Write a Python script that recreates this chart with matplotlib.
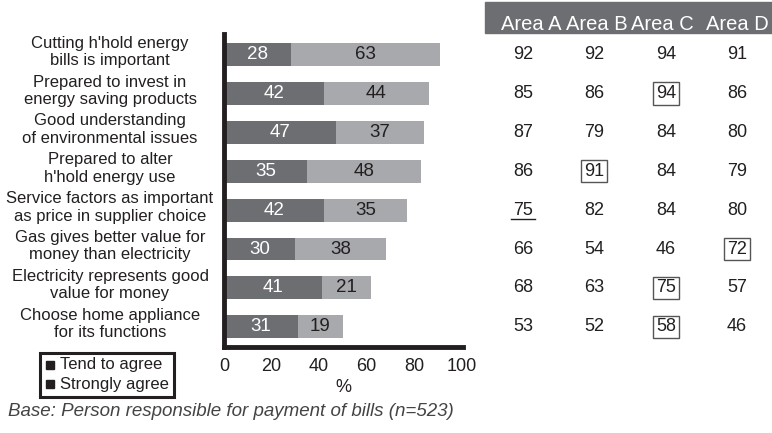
import matplotlib
matplotlib.use("Agg")
import matplotlib.pyplot as plt
import matplotlib.transforms as mtransforms
from matplotlib.lines import Line2D
from matplotlib.patches import Rectangle

plt.rcParams['font.family'] = ['Liberation Sans', 'DejaVu Sans']

categories = [
    "Cutting h'hold energy\nbills is important",
    "Prepared to invest in\nenergy saving products",
    "Good understanding\nof environmental issues",
    "Prepared to alter\nh'hold energy use",
    "Service factors as important\nas price in supplier choice",
    "Gas gives better value for\nmoney than electricity",
    "Electricity represents good\nvalue for money",
    "Choose home appliance\nfor its functions",
]
strongly_agree = [28, 42, 47, 35, 42, 30, 41, 31]
tend_to_agree = [63, 44, 37, 48, 35, 38, 21, 19]

areas = ["Area A", "Area B", "Area C", "Area D"]
area_a = [92, 85, 87, 86, 75, 66, 68, 53]
area_b = [92, 86, 79, 91, 82, 54, 63, 52]
area_c = [94, 94, 84, 84, 84, 46, 75, 58]
area_d = [91, 86, 80, 79, 80, 72, 57, 46]
# (row, column) of boxed and underlined cells
boxed = [(1, 2), (3, 1), (5, 3), (6, 2), (7, 2)]
underlined = [(4, 0)]

dark = "#6d6e71"
light = "#a7a9ac"
ink = "#231f20"

fig = plt.figure(figsize=(7.72, 4.33), dpi=100)
ax = fig.add_axes([224 / 772, 1 - 347 / 433, 239 / 772, 313 / 433])

y = list(range(len(categories)))
ax.barh(y, strongly_agree, height=0.59, color=dark)
ax.barh(y, tend_to_agree, left=strongly_agree, height=0.59, color=light)

for i in y:
    s, t = strongly_agree[i], tend_to_agree[i]
    ax.text(s / 2, i, str(s), ha='center', va='center', color='white', fontsize=13.5)
    ax.text(s + t / 2, i, str(t), ha='center', va='center', color=ink, fontsize=13.5)

ax.set_xlim(0, 100.5)
ax.set_ylim(7.52, -0.53)
ax.set_xticks([0, 20, 40, 60, 80, 100])
ax.tick_params(axis='x', length=0, labelsize=13, pad=8, colors=ink)
ax.set_yticks([])
for side in ['top', 'right']:
    ax.spines[side].set_visible(False)
for side in ['left', 'bottom']:
    ax.spines[side].set_linewidth(3.5)
    ax.spines[side].set_color(ink)
ax.set_xlabel('%', fontsize=13, color=ink, labelpad=3)

# category labels, centred to the left of the axis
trans = mtransforms.blended_transform_factory(fig.transFigure, ax.transData)
for i, lab in enumerate(categories):
    fig.text(110 / 772, i - 0.07, lab, transform=trans, ha='center', va='center',
             fontsize=12, color=ink, linespacing=1.2)

# table on the right
col_x = [523 / 772, 594 / 772, 666 / 772, 737 / 772]
head_x = [531 / 772, 597 / 772, 662 / 772, 737 / 772]
fig.patches.append(Rectangle((485 / 772, 1 - 33 / 433), 1 - 485 / 772, 31 / 433,
                             transform=fig.transFigure, color=dark, zorder=0))
for hx, name in zip(head_x, areas):
    fig.text(hx, 1 - 24 / 433, name, ha='center', va='center', color='white', fontsize=14.5)

table = [area_a, area_b, area_c, area_d]
for c, col in enumerate(table):
    for r, v in enumerate(col):
        kw = {}
        if (r, c) in boxed:
            kw['bbox'] = dict(boxstyle='square,pad=0.15', fc='none', ec='#555555', lw=1)
        fig.text(col_x[c], r, str(v), transform=trans, ha='center', va='center',
                 fontsize=13, color=ink, **kw)
        if (r, c) in underlined:
            fig.lines.append(Line2D([col_x[c] - 12 / 772, col_x[c] + 12 / 772], [r + 0.23, r + 0.23],
                                    transform=trans, color=ink, lw=1))

# legend box
fig.patches.append(Rectangle((40 / 772, 1 - 397 / 433), 134 / 772, 44 / 433,
                             transform=fig.transFigure, fill=False, ec=ink, lw=2.2))
for k, lab in enumerate(["Tend to agree", "Strongly agree"]):
    yy = 1 - (365 + k * 19) / 433
    fig.lines.append(Line2D([50 / 772], [yy], marker='s', markersize=5.5, color=ink,
                            transform=fig.transFigure))
    fig.text(60 / 772, yy, lab, ha='left', va='center', fontsize=12, color=ink)

fig.text(8 / 772, 1 - 411 / 433, "Base: Person responsible for payment of bills (n=523)",
         ha='left', va='center', fontsize=13.5, style='italic', color='#444444')

fig.savefig('out.png', dpi=100)
